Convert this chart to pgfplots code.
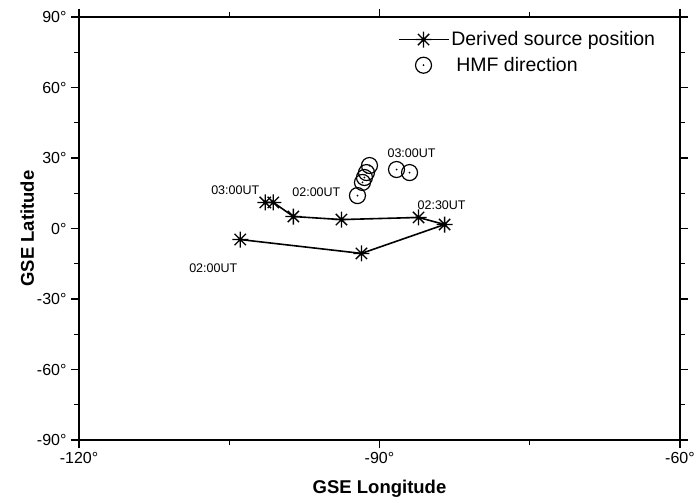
\documentclass[border=0pt]{standalone}
\usepackage{pgfplots}
\pgfplotsset{compat=1.18}
\usepackage{fontspec}
\setmainfont{Liberation Sans}
\pgfdeclareplotmark{star8}{%
  \pgfpathmoveto{\pgfqpoint{-\pgfplotmarksize}{0pt}}\pgfpathlineto{\pgfqpoint{\pgfplotmarksize}{0pt}}%
  \pgfpathmoveto{\pgfqpoint{0pt}{-\pgfplotmarksize}}\pgfpathlineto{\pgfqpoint{0pt}{\pgfplotmarksize}}%
  \pgfpathmoveto{\pgfqpoint{-0.707\pgfplotmarksize}{-0.707\pgfplotmarksize}}\pgfpathlineto{\pgfqpoint{0.707\pgfplotmarksize}{0.707\pgfplotmarksize}}%
  \pgfpathmoveto{\pgfqpoint{-0.707\pgfplotmarksize}{0.707\pgfplotmarksize}}\pgfpathlineto{\pgfqpoint{0.707\pgfplotmarksize}{-0.707\pgfplotmarksize}}%
  \pgfusepathqstroke}
\pgfdeclareplotmark{odot}{%
  \pgfpathcircle{\pgfpointorigin}{\pgfplotmarksize}\pgfusepathqstroke
  \pgfpathcircle{\pgfpointorigin}{1pt}\pgfusepathqfill}
\pgfplotsset{
  starlegend/.style={legend image code/.code={\draw[##1, mark repeat=2, mark phase=2] plot coordinates {(0pt,0pt) (25pt,0pt) (50pt,0pt)};}},
  circlegend/.style={legend image code/.code={\draw[##1] plot coordinates {(25pt,0pt)};}},
}
\begin{document}
\begin{tikzpicture}
\begin{axis}[
  scale only axis, width=601pt, height=423pt,
  xmin=-120, xmax=-60, ymin=-90, ymax=90,
  axis line style={line width=1.7pt},
  xtick={-120,-90,-60}, xticklabels={-120°,-90°,-60°},
  ytick={-90,-60,-30,0,30,60,90}, yticklabels={-90°,-60°,-30°,0°,30°,60°,90°},
  minor xtick={-105,-75}, minor ytick={-75,-45,-15,15,45,75},
  tick align=outside, major tick length=8pt, minor tick length=5pt,
  every tick/.style={black, line width=1.4pt},
  tick label style={font=\fontsize{16}{18}\selectfont},
  xticklabel style={yshift=-1pt},
  yticklabel style={xshift=-1pt},
  xlabel={\bfseries GSE Longitude}, ylabel={\bfseries GSE Latitude},
  label style={font=\fontsize{18.5}{21}\selectfont},
  xlabel style={yshift=-9pt},
  ylabel style={yshift=-4pt},
  legend style={draw=none, fill=none, at={(0.525,0.975)}, anchor=north west,
    font=\fontsize{19.5}{22}\selectfont, row sep=6pt,
    legend cell align=left},
  clip=false,
]
\addplot[black, line width=1.6pt, mark=star8, mark size=8pt, mark options={line width=1.3pt}, starlegend]
  coordinates {
  (-103.9,-4.7) (-91.8,-10.6) (-83.5,1.7) (-86.1,4.7) (-93.8,3.8) (-98.6,5.1) (-100.6,11.1) (-101.4,11.1)
};
\addlegendentry{Derived source position}
\addplot[black, only marks, mark=odot, mark size=8pt, mark options={line width=1.2pt}, circlegend]
  coordinates {
  (-92.2,14.0) (-91.7,19.6) (-91.5,21.7) (-91.3,23.8) (-91.0,26.8) (-88.3,25.1) (-87.0,23.8)
};
\addlegendentry{\hspace{5pt}HMF direction}
\begin{scope}[every node/.style={font=\fontsize{12.5}{14}\selectfont, inner sep=0pt}]
\node at (axis cs:-106.6,-17.0) {02:00UT};
\node at (axis cs:-104.4,16.2) {03:00UT};
\node at (axis cs:-96.3,15.3) {02:00UT};
\node at (axis cs:-86.8,31.9) {03:00UT};
\node at (axis cs:-83.8,9.8) {02:30UT};
\end{scope}
\end{axis}
\path (current axis.south west) ++(-79pt,-61pt) coordinate (bl);
\path (current axis.north east) ++(14pt,17pt) coordinate (tr);
\pgfresetboundingbox
\path[use as bounding box] (bl) rectangle (tr);
\end{tikzpicture}
\end{document}
